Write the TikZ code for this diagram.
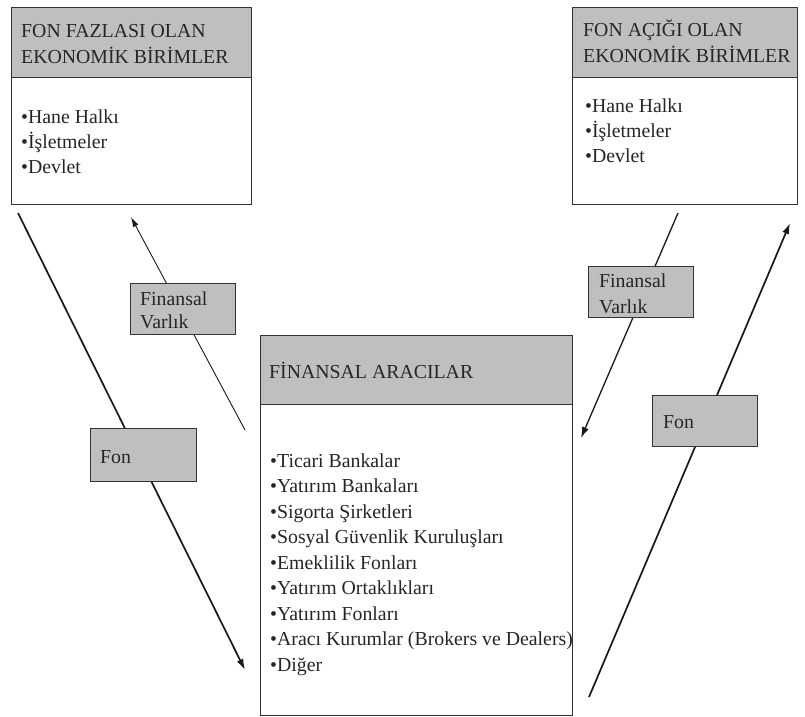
\documentclass[tikz,border=0pt]{standalone}
\usepackage{fontspec}
\setmainfont{Liberation Serif}
\usetikzlibrary{arrows.meta}
\begin{document}
\begin{tikzpicture}[x=1pt,y=-1pt,
  boxline/.style={draw=black!80, line width=1.3pt},
  head/.style={boxline, fill=black!25, anchor=north west, inner sep=0pt},
  body/.style={boxline, fill=white, anchor=north west, inner sep=0pt},
  lbl/.style={draw=black!80, line width=1pt, fill=black!25, anchor=north west, inner sep=0pt},
  txt/.style={anchor=base west, inner sep=0pt, font=\fontsize{19.8}{25}\selectfont, text=black!85},
  flow/.style={-{Latex[length=11pt,width=7pt]}, line width=1.7pt, draw=black!90},
  thinflow/.style={-{Latex[length=10pt,width=6pt]}, line width=0.9pt, draw=black!90}]

\path[use as bounding box] (0,0) rectangle (805,716);

% big boxes
\node[head, minimum width=240pt, minimum height=70pt] (h1) at (11,7) {};
\node[body, minimum width=240pt, minimum height=127pt] (b1) at (11,77) {};
\node[head, minimum width=225pt, minimum height=70pt] (h2) at (572,7) {};
\node[body, minimum width=225pt, minimum height=127pt] (b2) at (572,77) {};
\node[head, minimum width=312pt, minimum height=69pt] (h3) at (260,335) {};
\node[body, minimum width=312pt, minimum height=311pt] (b3) at (260,404) {};

% texts left box
\node[txt] (t1a) at (21,37) {FON FAZLASI OLAN};
\node[txt] (t1b) at (21,63) {EKONOMİK BİRİMLER};
\node[txt] (t1c) at (21,123) {•Hane Halkı};
\node[txt] (t1d) at (21,148) {•İşletmeler};
\node[txt] (t1e) at (21,173) {•Devlet};

% texts right box
\node[txt] (t2a) at (583,36) {FON AÇIĞI OLAN};
\node[txt] (t2b) at (583,62) {EKONOMİK BİRİMLER};
\node[txt] (t2c) at (585,112) {•Hane Halkı};
\node[txt] (t2d) at (585,137) {•İşletmeler};
\node[txt] (t2e) at (585,162) {•Devlet};

% texts middle box
\node[txt] (t3a) at (269,378) {FİNANSAL ARACILAR};
\foreach \s [count=\i from 0] in {Ticari Bankalar, Yatırım Bankaları, Sigorta Şirketleri, Sosyal Güvenlik Kuruluşları, Emeklilik Fonları, Yatırım Ortaklıkları, Yatırım Fonları, Aracı Kurumlar (Brokers ve Dealers), Diğer}
  \node[txt] (m\i) at (270,467+25.5*\i) {•\s};

% arrow end points
\coordinate (a1s) at (18,213);
\coordinate (a1e) at (245,670);
\coordinate (a2s) at (245,430);
\coordinate (a2e) at (131,217);
\coordinate (a3s) at (678,213);
\coordinate (a3e) at (581,438);
\coordinate (a4s) at (589,697);
\coordinate (a4e) at (790,223);

\draw[flow] (a1s) -- (a1e);
\draw[thinflow] (a2s) -- (a2e);
\draw[flow, line width=1.3pt] (a3s) -- (a3e);
\draw[flow] (a4s) -- (a4e);

% label boxes
\node[lbl, minimum width=105pt, minimum height=51pt] (l1) at (130,283) {};
\node[txt] (l1a) at (140,305) {Finansal};
\node[txt] (l1b) at (140,328) {Varlık};
\node[lbl, minimum width=106pt, minimum height=53pt] (l2) at (90,428) {};
\node[txt] (l2a) at (100,463) {Fon};
\node[lbl, minimum width=105pt, minimum height=51pt] (l3) at (588,266) {};
\node[txt] (l3a) at (599,287) {Finansal};
\node[txt] (l3b) at (599,313) {Varlık};
\node[lbl, minimum width=105pt, minimum height=51pt] (l4) at (652,395) {};
\node[txt] (l4a) at (663,428) {Fon};
\end{tikzpicture}
\end{document}
